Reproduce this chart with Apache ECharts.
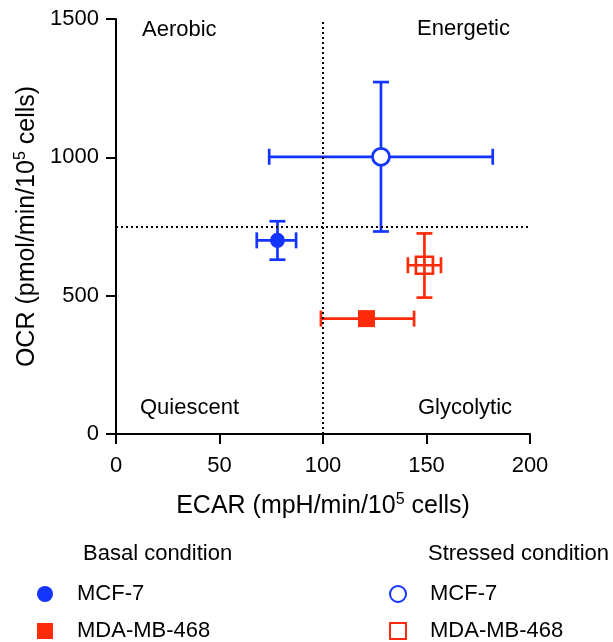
<!DOCTYPE html>
<html>
<head>
<meta charset="utf-8">
<script src="https://cdn.jsdelivr.net/npm/echarts@6/dist/echarts.min.js"></script>
<style>
  html, body { margin: 0; padding: 0; background: #fff; }
  #chart { width: 613px; height: 642px; }
</style>
</head>
<body>
<div id="chart"></div>
<script>
// ECAR (x) / OCR (y), mean with error range
const groups = ["Basal MCF-7", "Basal MDA-MB-468", "Stressed MCF-7", "Stressed MDA-MB-468"];
const ecarMean = [78, 121, 128, 149];
const ecarLow = [68, 99, 74, 141];
const ecarHigh = [87, 144, 182, 157];
const ocrMean = [700, 417, 1002, 610];
const ocrLow = [630, 417, 732, 493];
const ocrHigh = [769, 417, 1272, 725];
const xTicks = [0, 50, 100, 150, 200];
const yTicks = [0, 500, 1000, 1500];
const ecarCut = 100;
const ocrCut = 750;

const BLUE = "#1434ff";
const RED = "#ff2a08";
const FONT = "Liberation Sans, Arial, Helvetica, sans-serif";

const colors = [BLUE, RED, BLUE, RED];
const symbols = ["circle", "rect", "circle", "rect"];
const sizes = [15, 17, 17, 17];
const hollow = [false, false, true, true];

const chart = echarts.init(document.getElementById("chart"));

function errorBars(i) {
  return {
    type: "custom",
    silent: true,
    z: 2,
    data: [[ecarMean[i], ocrMean[i], ecarLow[i], ecarHigh[i], ocrLow[i], ocrHigh[i]]],
    renderItem(params, api) {
      const xl = api.coord([api.value(2), api.value(1)]);
      const xh = api.coord([api.value(3), api.value(1)]);
      const yl = api.coord([api.value(0), api.value(4)]);
      const yh = api.coord([api.value(0), api.value(5)]);
      const cap = 8;
      const style = { stroke: colors[i], lineWidth: 2.7, fill: null };
      const lines = [
        [xl, xh],
        [[xl[0], xl[1] - cap], [xl[0], xl[1] + cap]],
        [[xh[0], xh[1] - cap], [xh[0], xh[1] + cap]],
      ];
      if (api.value(4) !== api.value(5)) {
        lines.push([yl, yh]);
        lines.push([[yl[0] - cap, yl[1]], [yl[0] + cap, yl[1]]]);
        lines.push([[yh[0] - cap, yh[1]], [yh[0] + cap, yh[1]]]);
      }
      return {
        type: "group",
        children: lines.map((l) => ({
          type: "line",
          shape: { x1: l[0][0], y1: l[0][1], x2: l[1][0], y2: l[1][1] },
          style,
        })),
      };
    },
  };
}

const series = [];
groups.forEach((g, i) => {
  series.push(errorBars(i));
  series.push({
    name: g,
    type: "scatter",
    z: 3,
    symbol: symbols[i],
    symbolSize: sizes[i],
    itemStyle: hollow[i]
      ? { color: symbols[i] === "circle" ? "#fff" : "rgba(255,255,255,0)", borderColor: colors[i], borderWidth: 2.7, opacity: 1 }
      : { color: colors[i], opacity: 1 },
    data: [[ecarMean[i], ocrMean[i]]],
  });
});

// dotted quadrant dividers
series.push({
  type: "scatter",
  data: [],
  silent: true,
  markLine: {
    silent: true,
    symbol: "none",
    label: { show: false },
    lineStyle: { color: "#000", width: 2, type: [2, 3] },
    data: [
      { xAxis: ecarCut },
      [{ coord: [xTicks[0], ocrCut] }, { coord: [xTicks[xTicks.length - 1], ocrCut] }],
    ],
  },
});

const legendBase = {
  orient: "vertical",
  top: 583,
  padding: 0,
  itemWidth: 16,
  itemHeight: 16,
  itemGap: 15,
  selectedMode: false,
  textStyle: { fontFamily: FONT, fontSize: 22, color: "#000", padding: [0, 0, 0, 19] },
  formatter: (n) => n.replace(/^(Basal|Stressed) /, ""),
};

const titleStyle = {
  fontFamily: FONT, fontSize: 25, color: "#000",
  rich: { sup: { fontSize: 16, verticalAlign: "top", padding: [0, 0, 12, 0], fontFamily: FONT, color: "#000" } },
};

const option = {
  animation: false,
  backgroundColor: "#fff",
  textStyle: { fontFamily: FONT },
  grid: { left: 116, right: 83, top: 19, bottom: 208 },
  xAxis: {
    type: "value",
    min: xTicks[0],
    max: xTicks[xTicks.length - 1],
    interval: 50,
    name: "ECAR (mpH/min/10{sup|5} cells)",
    nameLocation: "middle",
    nameGap: 58,
    nameTextStyle: titleStyle,
    axisLine: { show: true, lineStyle: { color: "#000", width: 2 } },
    axisTick: { show: true, length: 10, lineStyle: { color: "#000", width: 2 } },
    axisLabel: { fontSize: 22, color: "#000", margin: 21, fontFamily: FONT },
    splitLine: { show: false },
  },
  yAxis: {
    type: "value",
    min: yTicks[0],
    max: yTicks[yTicks.length - 1],
    interval: 500,
    name: "OCR (pmol/min/10{sup|5} cells)",
    nameLocation: "middle",
    nameGap: 72,
    nameTextStyle: titleStyle,
    axisLine: { show: true, lineStyle: { color: "#000", width: 2 } },
    axisTick: { show: true, length: 10, lineStyle: { color: "#000", width: 2 } },
    axisLabel: { fontSize: 22, color: "#000", margin: 17, fontFamily: FONT, formatter: (v) => String(v) },
    splitLine: { show: false },
  },
  legend: [
    Object.assign({}, legendBase, { left: 37, data: groups.slice(0, 2) }),
    Object.assign({}, legendBase, { left: 389, data: groups.slice(2) }),
  ],
  graphic: [
    { type: "text", left: 142, top: 19, style: { text: "Aerobic", font: `22px ${FONT}`, fill: "#000" } },
    { type: "text", left: 417, top: 18, style: { text: "Energetic", font: `22px ${FONT}`, fill: "#000" } },
    { type: "text", left: 140, top: 397, style: { text: "Quiescent", font: `22px ${FONT}`, fill: "#000" } },
    { type: "text", left: 418, top: 397, style: { text: "Glycolytic", font: `22px ${FONT}`, fill: "#000" } },
    { type: "text", left: 83, top: 543, style: { text: "Basal condition", font: `22px ${FONT}`, fill: "#000" } },
    { type: "text", left: 428, top: 543, style: { text: "Stressed condition", font: `22px ${FONT}`, fill: "#000" } },
  ],
  series,
};

chart.setOption(option);
window.addEventListener("resize", () => chart.resize());
</script>
</body>
</html>
